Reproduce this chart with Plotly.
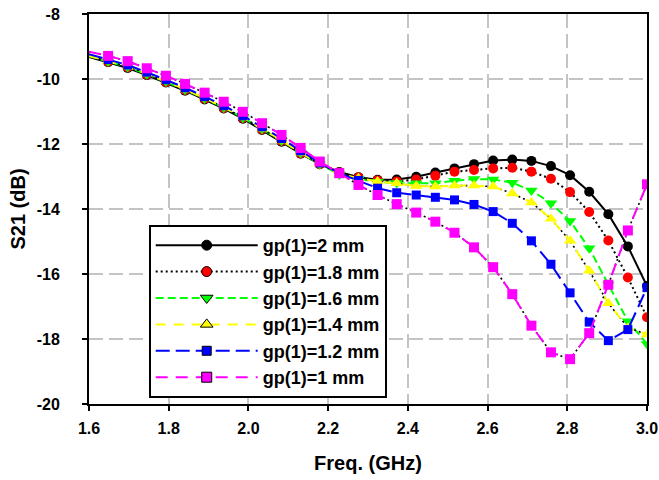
import plotly.graph_objects as go

# Frequency sweep (GHz), 30 points from 1.6 to 3.0
freq = [1.600, 1.648, 1.697, 1.745, 1.793, 1.841, 1.890, 1.938, 1.986, 2.034,
        2.083, 2.131, 2.179, 2.228, 2.276, 2.324, 2.372, 2.421, 2.469, 2.517,
        2.566, 2.614, 2.662, 2.710, 2.759, 2.807, 2.855, 2.903, 2.952, 3.000]

# S21 (dB) for each gp(1) value
s21_gp20 = [-9.32, -9.48, -9.66, -9.88, -10.11, -10.36, -10.63, -10.91, -11.22, -11.57,
            -11.93, -12.30, -12.62, -12.86, -13.02, -13.10, -13.09, -13.01, -12.88, -12.75,
            -12.62, -12.51, -12.48, -12.52, -12.68, -12.96, -13.47, -14.16, -15.15, -16.37]
s21_gp18 = [-9.31, -9.47, -9.64, -9.86, -10.09, -10.34, -10.61, -10.89, -11.20, -11.55,
            -11.91, -12.29, -12.62, -12.88, -13.03, -13.12, -13.15, -13.09, -12.98, -12.85,
            -12.80, -12.75, -12.73, -12.85, -13.07, -13.48, -14.09, -14.97, -16.11, -17.33]
s21_gp16 = [-9.30, -9.46, -9.63, -9.85, -10.08, -10.33, -10.60, -10.88, -11.19, -11.54,
            -11.90, -12.28, -12.62, -12.94, -13.08, -13.16, -13.20, -13.21, -13.21, -13.13,
            -13.08, -13.09, -13.19, -13.43, -13.82, -14.37, -15.21, -16.32, -17.45, -18.15]
s21_gp14 = [-9.29, -9.45, -9.62, -9.84, -10.07, -10.32, -10.59, -10.87, -11.18, -11.53,
            -11.89, -12.27, -12.61, -12.92, -13.05, -13.15, -13.21, -13.29, -13.31, -13.28,
            -13.28, -13.31, -13.52, -13.80, -14.30, -14.98, -15.90, -16.90, -17.65, -17.86]
s21_gp12 = [-9.24, -9.40, -9.57, -9.79, -10.02, -10.27, -10.54, -10.82, -11.13, -11.47,
            -11.83, -12.21, -12.58, -12.90, -13.12, -13.36, -13.50, -13.57, -13.64, -13.72,
            -13.86, -14.08, -14.44, -14.98, -15.70, -16.58, -17.48, -18.05, -17.71, -16.42]
s21_gp10 = [-9.16, -9.29, -9.45, -9.67, -9.90, -10.15, -10.42, -10.70, -11.01, -11.36,
            -11.72, -12.12, -12.54, -12.90, -13.26, -13.57, -13.85, -14.11, -14.39, -14.73,
            -15.18, -15.79, -16.62, -17.59, -18.41, -18.62, -17.82, -16.33, -14.66, -13.24]

labels = ["gp(1)=2 mm", "gp(1)=1.8 mm", "gp(1)=1.6 mm",
          "gp(1)=1.4 mm", "gp(1)=1.2 mm", "gp(1)=1 mm"]
x_ticks = [1.6, 1.8, 2.0, 2.2, 2.4, 2.6, 2.8, 3.0]
y_ticks = [-20, -18, -16, -14, -12, -10, -8]

FONT = "Liberation Sans, Arial, sans-serif"

styles = [
    # (values, line colour, dash, marker colour, symbol, marker size, black dots under line)
    (s21_gp20, "black", "solid", "black", "circle", 10, False),
    (s21_gp18, "black", "2px,3px", "#ff0000", "circle", 10, False),
    (s21_gp16, "#00ff00", "8px,4px", "#00ff00", "triangle-down", 11, False),
    (s21_gp14, "#ffff00", "10px,8px", "#ffff00", "triangle-up", 11, True),
    (s21_gp12, "#0000ff", "14px,6px", "#0000ff", "square", 9, False),
    (s21_gp10, "#ff00ff", "12px,8px", "#ff00ff", "square", 10, True),
]

fig = go.Figure()

# the sweep's first sample sits on the left frame and carries no marker
marker_alpha = [0] + [1] * (len(freq) - 1)

for (vals, lc, dash, mc, sym, ms, dots), name in zip(styles, labels):
    if dots:
        fig.add_trace(go.Scatter(
            x=freq, y=vals, mode="lines", showlegend=False, hoverinfo="skip",
            line=dict(color="black", width=1.6, dash="2px,3px")))
    fig.add_trace(go.Scatter(
        x=freq, y=vals, mode="lines+markers", name=name, showlegend=False,
        line=dict(color=lc, width=2, dash=dash),
        marker=dict(symbol=sym, size=ms, color=mc, opacity=marker_alpha,
                    line=dict(width=0))))

# legend entries (outlined markers)
for (vals, lc, dash, mc, sym, ms, dots), name in zip(styles, labels):
    fig.add_trace(go.Scatter(
        x=[None], y=[None], mode="lines+markers", name=name, legendgroup=name,
        line=dict(color=lc, width=2, dash=dash),
        marker=dict(symbol=sym, size=ms, color=mc,
                    line=dict(color="black", width=1))))

axis_common = dict(
    showline=True, linecolor="black", linewidth=2, mirror=True,
    ticks="outside", ticklen=5, tickwidth=1.5, tickcolor="black",
    showgrid=True, gridcolor="#c4c4c4", gridwidth=2, griddash="14px,6px",
    zeroline=False, automargin=False,
    tickfont=dict(family=FONT, size=16, color="black", weight="bold"),
)

fig.update_xaxes(
    range=[1.6, 3.0], tickvals=x_ticks, ticktext=[f"{v:.1f}" for v in x_ticks],
    ticklabelstandoff=4,
    title=dict(text="Freq. (GHz)", standoff=20,
               font=dict(family=FONT, size=20, color="black", weight="bold")),
    **axis_common)
fig.update_yaxes(
    range=[-20, -8], tickvals=y_ticks, ticktext=[str(v) for v in y_ticks],
    ticklabelstandoff=19,
    title=dict(text="S21 (dB)", standoff=6,
               font=dict(family=FONT, size=20, color="black", weight="bold")),
    **axis_common)

fig.update_layout(
    width=659, height=480,
    margin=dict(l=89, r=12, t=14, b=76),
    paper_bgcolor="white", plot_bgcolor="white",
    showlegend=True,
    legend=dict(
        x=0.107, y=0.459, xanchor="left", yanchor="top",
        bgcolor="white", bordercolor="black", borderwidth=2,
        font=dict(family=FONT, size=18, color="black", weight="bold"),
        itemwidth=102, tracegroupgap=5, traceorder="normal",
    ),
)

fig.write_html("out.html")
